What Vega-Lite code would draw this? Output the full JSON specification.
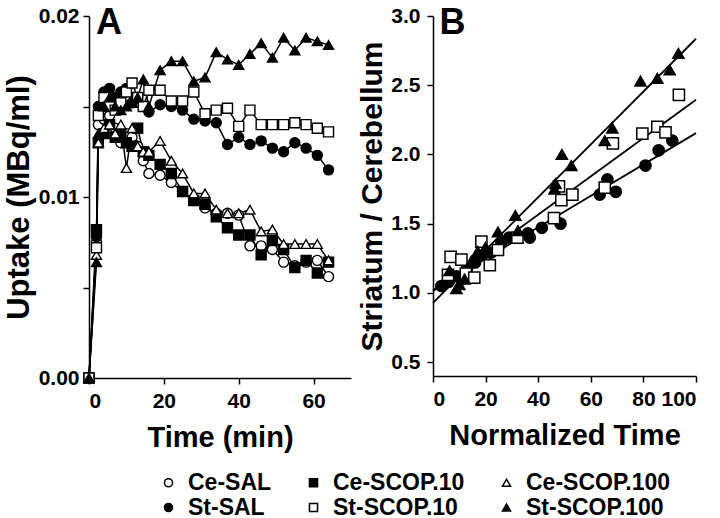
{
  "$schema": "https://vega.github.io/schema/vega-lite/v6.json",
  "background": "white",
  "padding": {"left": 3, "top": 4, "right": 5, "bottom": 5},
  "spacing": 6,
  "config": {
    "view": {"stroke": null},
    "font": "Liberation Sans",
    "axis": {
      "domainColor": "black", "domainWidth": 1.5, "tickColor": "black", "tickWidth": 1.5, "tickSize": 6,
      "labelFont": "Liberation Sans", "labelFontWeight": "bold", "labelFontSize": 21, "labelColor": "black", "labelPadding": 6,
      "titleFont": "Liberation Sans", "titleFontWeight": "bold", "titleFontSize": 29, "titleColor": "black", "titlePadding": 12,
      "grid": false
    },
    "legend": {
      "labelFont": "Liberation Sans", "labelFontWeight": "bold", "labelFontSize": 23, "labelColor": "black",
      "symbolStrokeWidth": 1.5, "symbolSize": 65, "labelOffset": 8,
      "columnPadding": 30, "rowPadding": 1
    }
  },
  "datasets": {
    "uptake": [
      {"s":"Ce-SAL","t":0,"v":0},{"s":"Ce-SAL","t":2,"v":0.0075},{"s":"Ce-SAL","t":2.5,"v":0.014},{"s":"Ce-SAL","t":4,"v":0.0143},{"s":"Ce-SAL","t":5.5,"v":0.0145},{"s":"Ce-SAL","t":7,"v":0.0138},{"s":"Ce-SAL","t":8.5,"v":0.013},{"s":"Ce-SAL","t":10,"v":0.0135},{"s":"Ce-SAL","t":11.5,"v":0.0133},{"s":"Ce-SAL","t":13,"v":0.0128},{"s":"Ce-SAL","t":14.5,"v":0.012},{"s":"Ce-SAL","t":16,"v":0.0113},{"s":"Ce-SAL","t":19,"v":0.0112},{"s":"Ce-SAL","t":22,"v":0.0108},{"s":"Ce-SAL","t":25,"v":0.0103},{"s":"Ce-SAL","t":28,"v":0.0098},{"s":"Ce-SAL","t":31,"v":0.0094},{"s":"Ce-SAL","t":34,"v":0.0091},{"s":"Ce-SAL","t":37,"v":0.0091},{"s":"Ce-SAL","t":40,"v":0.009},{"s":"Ce-SAL","t":43,"v":0.0073},{"s":"Ce-SAL","t":46,"v":0.0073},{"s":"Ce-SAL","t":49,"v":0.0071},{"s":"Ce-SAL","t":52,"v":0.0064},{"s":"Ce-SAL","t":55,"v":0.0062},{"s":"Ce-SAL","t":58,"v":0.0064},{"s":"Ce-SAL","t":61,"v":0.0065},{"s":"Ce-SAL","t":64,"v":0.0056},
      {"s":"Ce-SCOP.10","t":0,"v":0},{"s":"Ce-SCOP.10","t":2,"v":0.0082},{"s":"Ce-SCOP.10","t":2.5,"v":0.013},{"s":"Ce-SCOP.10","t":4,"v":0.0135},{"s":"Ce-SCOP.10","t":5.5,"v":0.014},{"s":"Ce-SCOP.10","t":7,"v":0.0133},{"s":"Ce-SCOP.10","t":8.5,"v":0.0135},{"s":"Ce-SCOP.10","t":10,"v":0.013},{"s":"Ce-SCOP.10","t":11.5,"v":0.0128},{"s":"Ce-SCOP.10","t":13,"v":0.0138},{"s":"Ce-SCOP.10","t":14.5,"v":0.0125},{"s":"Ce-SCOP.10","t":16,"v":0.0123},{"s":"Ce-SCOP.10","t":19,"v":0.0118},{"s":"Ce-SCOP.10","t":22,"v":0.0113},{"s":"Ce-SCOP.10","t":25,"v":0.0103},{"s":"Ce-SCOP.10","t":28,"v":0.0098},{"s":"Ce-SCOP.10","t":31,"v":0.0096},{"s":"Ce-SCOP.10","t":34,"v":0.0089},{"s":"Ce-SCOP.10","t":37,"v":0.0083},{"s":"Ce-SCOP.10","t":40,"v":0.0079},{"s":"Ce-SCOP.10","t":43,"v":0.0079},{"s":"Ce-SCOP.10","t":46,"v":0.0068},{"s":"Ce-SCOP.10","t":49,"v":0.0076},{"s":"Ce-SCOP.10","t":52,"v":0.0071},{"s":"Ce-SCOP.10","t":55,"v":0.0061},{"s":"Ce-SCOP.10","t":58,"v":0.0065},{"s":"Ce-SCOP.10","t":61,"v":0.0058},{"s":"Ce-SCOP.10","t":64,"v":0.0064},
      {"s":"Ce-SCOP.100","t":0,"v":0},{"s":"Ce-SCOP.100","t":2,"v":0.0068},{"s":"Ce-SCOP.100","t":2.5,"v":0.013},{"s":"Ce-SCOP.100","t":4,"v":0.0138},{"s":"Ce-SCOP.100","t":5.5,"v":0.014},{"s":"Ce-SCOP.100","t":7,"v":0.0135},{"s":"Ce-SCOP.100","t":8.5,"v":0.014},{"s":"Ce-SCOP.100","t":10,"v":0.0116},{"s":"Ce-SCOP.100","t":11.5,"v":0.0138},{"s":"Ce-SCOP.100","t":13,"v":0.0128},{"s":"Ce-SCOP.100","t":14.5,"v":0.0125},{"s":"Ce-SCOP.100","t":16,"v":0.0125},{"s":"Ce-SCOP.100","t":19,"v":0.0131},{"s":"Ce-SCOP.100","t":22,"v":0.012},{"s":"Ce-SCOP.100","t":25,"v":0.0113},{"s":"Ce-SCOP.100","t":28,"v":0.0102},{"s":"Ce-SCOP.100","t":31,"v":0.0102},{"s":"Ce-SCOP.100","t":34,"v":0.0093},{"s":"Ce-SCOP.100","t":37,"v":0.0091},{"s":"Ce-SCOP.100","t":40,"v":0.0091},{"s":"Ce-SCOP.100","t":43,"v":0.0093},{"s":"Ce-SCOP.100","t":46,"v":0.0081},{"s":"Ce-SCOP.100","t":49,"v":0.0082},{"s":"Ce-SCOP.100","t":52,"v":0.0074},{"s":"Ce-SCOP.100","t":55,"v":0.0074},{"s":"Ce-SCOP.100","t":58,"v":0.0074},{"s":"Ce-SCOP.100","t":61,"v":0.0074},{"s":"Ce-SCOP.100","t":64,"v":0.0065},
      {"s":"St-SAL","t":0,"v":0},{"s":"St-SAL","t":2,"v":0.0078},{"s":"St-SAL","t":2.5,"v":0.015},{"s":"St-SAL","t":4,"v":0.0158},{"s":"St-SAL","t":5.5,"v":0.016},{"s":"St-SAL","t":7,"v":0.0155},{"s":"St-SAL","t":8.5,"v":0.0158},{"s":"St-SAL","t":10,"v":0.016},{"s":"St-SAL","t":11.5,"v":0.0152},{"s":"St-SAL","t":13,"v":0.0155},{"s":"St-SAL","t":14.5,"v":0.015},{"s":"St-SAL","t":16,"v":0.0147},{"s":"St-SAL","t":19,"v":0.0151},{"s":"St-SAL","t":22,"v":0.015},{"s":"St-SAL","t":25,"v":0.0148},{"s":"St-SAL","t":28,"v":0.0143},{"s":"St-SAL","t":31,"v":0.0142},{"s":"St-SAL","t":34,"v":0.0141},{"s":"St-SAL","t":37,"v":0.0129},{"s":"St-SAL","t":40,"v":0.0133},{"s":"St-SAL","t":43,"v":0.0129},{"s":"St-SAL","t":46,"v":0.0131},{"s":"St-SAL","t":49,"v":0.0127},{"s":"St-SAL","t":52,"v":0.0125},{"s":"St-SAL","t":55,"v":0.013},{"s":"St-SAL","t":58,"v":0.0127},{"s":"St-SAL","t":61,"v":0.0123},{"s":"St-SAL","t":64,"v":0.0115},
      {"s":"St-SCOP.10","t":0,"v":0},{"s":"St-SCOP.10","t":2,"v":0.0072},{"s":"St-SCOP.10","t":2.5,"v":0.0145},{"s":"St-SCOP.10","t":4,"v":0.0155},{"s":"St-SCOP.10","t":5.5,"v":0.015},{"s":"St-SCOP.10","t":7,"v":0.0148},{"s":"St-SCOP.10","t":8.5,"v":0.0152},{"s":"St-SCOP.10","t":10,"v":0.0158},{"s":"St-SCOP.10","t":11.5,"v":0.0163},{"s":"St-SCOP.10","t":13,"v":0.0155},{"s":"St-SCOP.10","t":14.5,"v":0.015},{"s":"St-SCOP.10","t":16,"v":0.0159},{"s":"St-SCOP.10","t":19,"v":0.0159},{"s":"St-SCOP.10","t":22,"v":0.0153},{"s":"St-SCOP.10","t":25,"v":0.0153},{"s":"St-SCOP.10","t":28,"v":0.0158},{"s":"St-SCOP.10","t":31,"v":0.0146},{"s":"St-SCOP.10","t":34,"v":0.0148},{"s":"St-SCOP.10","t":37,"v":0.0149},{"s":"St-SCOP.10","t":40,"v":0.0139},{"s":"St-SCOP.10","t":43,"v":0.0148},{"s":"St-SCOP.10","t":46,"v":0.014},{"s":"St-SCOP.10","t":49,"v":0.014},{"s":"St-SCOP.10","t":52,"v":0.014},{"s":"St-SCOP.10","t":55,"v":0.0141},{"s":"St-SCOP.10","t":58,"v":0.014},{"s":"St-SCOP.10","t":61,"v":0.0138},{"s":"St-SCOP.10","t":64,"v":0.0136},
      {"s":"St-SCOP.100","t":0,"v":0},{"s":"St-SCOP.100","t":2,"v":0.0064},{"s":"St-SCOP.100","t":2.5,"v":0.0135},{"s":"St-SCOP.100","t":4,"v":0.015},{"s":"St-SCOP.100","t":5.5,"v":0.0155},{"s":"St-SCOP.100","t":7,"v":0.015},{"s":"St-SCOP.100","t":8.5,"v":0.0148},{"s":"St-SCOP.100","t":10,"v":0.015},{"s":"St-SCOP.100","t":11.5,"v":0.0152},{"s":"St-SCOP.100","t":13,"v":0.0155},{"s":"St-SCOP.100","t":14.5,"v":0.0165},{"s":"St-SCOP.100","t":16,"v":0.015},{"s":"St-SCOP.100","t":19,"v":0.017},{"s":"St-SCOP.100","t":22,"v":0.0175},{"s":"St-SCOP.100","t":25,"v":0.0175},{"s":"St-SCOP.100","t":28,"v":0.0164},{"s":"St-SCOP.100","t":31,"v":0.0166},{"s":"St-SCOP.100","t":34,"v":0.018},{"s":"St-SCOP.100","t":37,"v":0.0176},{"s":"St-SCOP.100","t":40,"v":0.0173},{"s":"St-SCOP.100","t":43,"v":0.0179},{"s":"St-SCOP.100","t":46,"v":0.0185},{"s":"St-SCOP.100","t":49,"v":0.0177},{"s":"St-SCOP.100","t":52,"v":0.0188},{"s":"St-SCOP.100","t":55,"v":0.0181},{"s":"St-SCOP.100","t":58,"v":0.0188},{"s":"St-SCOP.100","t":61,"v":0.0186},{"s":"St-SCOP.100","t":64,"v":0.0184}
    ],
    "ratio": [
      {"s":"St-SAL","nt":3.2,"r":1.05},{"s":"St-SAL","nt":6,"r":1.08},{"s":"St-SAL","nt":9,"r":1.12},{"s":"St-SAL","nt":11,"r":1.1},{"s":"St-SAL","nt":13,"r":1.18},{"s":"St-SAL","nt":16,"r":1.22},{"s":"St-SAL","nt":18,"r":1.27},{"s":"St-SAL","nt":22,"r":1.29},{"s":"St-SAL","nt":26,"r":1.36},{"s":"St-SAL","nt":29,"r":1.4},{"s":"St-SAL","nt":36.1,"r":1.43},{"s":"St-SAL","nt":36.8,"r":1.4},{"s":"St-SAL","nt":41.4,"r":1.47},{"s":"St-SAL","nt":48.5,"r":1.5},{"s":"St-SAL","nt":63.4,"r":1.71},{"s":"St-SAL","nt":66.3,"r":1.82},{"s":"St-SAL","nt":69.5,"r":1.73},{"s":"St-SAL","nt":80.8,"r":1.92},{"s":"St-SAL","nt":85.8,"r":2.03},{"s":"St-SAL","nt":91,"r":2.1},
      {"s":"St-SCOP.10","nt":5.7,"r":1.13},{"s":"St-SCOP.10","nt":6.7,"r":1.26},{"s":"St-SCOP.10","nt":10.8,"r":1.24},{"s":"St-SCOP.10","nt":12.5,"r":1.14},{"s":"St-SCOP.10","nt":15.7,"r":1.11},{"s":"St-SCOP.10","nt":18.4,"r":1.37},{"s":"St-SCOP.10","nt":21.6,"r":1.2},{"s":"St-SCOP.10","nt":24.7,"r":1.31},{"s":"St-SCOP.10","nt":32.1,"r":1.4},{"s":"St-SCOP.10","nt":46,"r":1.54},{"s":"St-SCOP.10","nt":47.9,"r":1.77},{"s":"St-SCOP.10","nt":48.8,"r":1.67},{"s":"St-SCOP.10","nt":53,"r":1.71},{"s":"St-SCOP.10","nt":65.3,"r":1.76},{"s":"St-SCOP.10","nt":68.4,"r":2.08},{"s":"St-SCOP.10","nt":79.6,"r":2.15},{"s":"St-SCOP.10","nt":85.3,"r":2.2},{"s":"St-SCOP.10","nt":88.4,"r":2.16},{"s":"St-SCOP.10","nt":93.5,"r":2.43},
      {"s":"St-SCOP.100","nt":6.3,"r":1.16},{"s":"St-SCOP.100","nt":8.9,"r":1.03},{"s":"St-SCOP.100","nt":10,"r":1.06},{"s":"St-SCOP.100","nt":12,"r":1.1},{"s":"St-SCOP.100","nt":14.6,"r":1.23},{"s":"St-SCOP.100","nt":17,"r":1.3},{"s":"St-SCOP.100","nt":20,"r":1.33},{"s":"St-SCOP.100","nt":24.7,"r":1.44},{"s":"St-SCOP.100","nt":31.3,"r":1.56},{"s":"St-SCOP.100","nt":32.3,"r":1.45},{"s":"St-SCOP.100","nt":46.2,"r":1.75},{"s":"St-SCOP.100","nt":46.6,"r":1.79},{"s":"St-SCOP.100","nt":49,"r":2.0},{"s":"St-SCOP.100","nt":52.6,"r":1.92},{"s":"St-SCOP.100","nt":65.3,"r":2.1},{"s":"St-SCOP.100","nt":68.2,"r":2.19},{"s":"St-SCOP.100","nt":78.9,"r":2.53},{"s":"St-SCOP.100","nt":85.3,"r":2.55},{"s":"St-SCOP.100","nt":90,"r":2.61},{"s":"St-SCOP.100","nt":93.3,"r":2.73}
    ]
  },
  "resolve": {"scale": {"shape": "shared", "fill": "shared", "stroke": "shared"}},
  "hconcat": [
    {
      "width": 262,
      "height": 362,
      "layer": [
        {
          "data": {"name": "uptake"},
          "mark": {"type": "line", "color": "black", "strokeWidth": 1.5},
          "encoding": {
            "x": {"field": "t", "type": "quantitative", "scale": {"domain": [0, 70]},
                  "axis": {"title": "Time (min)", "values": [0,10,20,30,40,50,60,70], "labelExpr": "datum.value % 20 == 0 ? datum.label : ''"}},
            "y": {"field": "v", "type": "quantitative", "scale": {"domain": [0, 0.02]},
                  "axis": {"title": "Uptake (MBq/ml)", "titleFontSize": 31, "titlePadding": 3, "labelPadding": 4, "values": [0,0.005,0.01,0.015,0.02], "format": ".2f", "labelExpr": "(datum.value == 0.005 || datum.value == 0.015) ? '' : datum.label"}},
            "detail": {"field": "s"}
          }
        },
        {
          "data": {"name": "uptake"},
          "mark": {"type": "point", "filled": false, "strokeWidth": 1.4, "size": 100, "opacity": 1, "fillOpacity": 1, "strokeOpacity": 1},
          "encoding": {
            "x": {"field": "t", "type": "quantitative"},
            "y": {"field": "v", "type": "quantitative"},
            "shape": {"field": "s", "type": "nominal",
                      "scale": {"domain": ["Ce-SAL","Ce-SCOP.10","Ce-SCOP.100","St-SAL","St-SCOP.10","St-SCOP.100"], "range": ["circle","square","triangle-up","circle","square","triangle-up"]},
                      "legend": {"title": null, "orient": "none", "legendX": 68, "legendY": 455, "columns": 3, "direction": "horizontal"}},
            "fill": {"field": "s", "type": "nominal",
                     "scale": {"domain": ["Ce-SAL","Ce-SCOP.10","Ce-SCOP.100","St-SAL","St-SCOP.10","St-SCOP.100"], "range": ["white","black","white","black","white","black"]},
                     "legend": {"title": null, "orient": "none", "legendX": 68, "legendY": 455, "columns": 3, "direction": "horizontal"}},
            "stroke": {"field": "s", "type": "nominal",
                       "scale": {"domain": ["Ce-SAL","Ce-SCOP.10","Ce-SCOP.100","St-SAL","St-SCOP.10","St-SCOP.100"], "range": ["black","black","black","black","black","black"]},
                       "legend": {"title": null, "orient": "none", "legendX": 68, "legendY": 455, "columns": 3, "direction": "horizontal"}}
          }
        },
        {
          "data": {"values": [{"label": "A"}]},
          "mark": {"type": "text", "fontSize": 36, "fontWeight": "bold", "font": "Liberation Sans", "align": "left", "baseline": "alphabetic", "color": "black"},
          "encoding": {
            "x": {"datum": 1.9, "type": "quantitative"},
            "y": {"datum": 0.019, "type": "quantitative"},
            "text": {"field": "label"}
          }
        }
      ]
    },
    {
      "width": 263,
      "height": 360,
      "layer": [
        {
          "data": {"name": "ratio"},
          "transform": [{"regression": "r", "on": "nt", "groupby": ["s"], "extent": [0, 100]}],
          "mark": {"type": "line", "color": "black", "strokeWidth": 1.8},
          "encoding": {
            "x": {"field": "nt", "type": "quantitative", "scale": {"domain": [0, 100]},
                  "axis": {"title": "Normalized Time", "values": [0,10,20,30,40,50,60,70,80,90,100], "labelExpr": "datum.value % 20 == 0 ? datum.label : ''"}},
            "y": {"field": "r", "type": "quantitative", "scale": {"domain": [0.5, 3.0]},
                  "axis": {"title": "Striatum / Cerebellum", "titleFontSize": 30, "titlePadding": 3, "labelPadding": 7, "values": [0.5,0.75,1,1.25,1.5,1.75,2,2.25,2.5,2.75,3], "format": ".1f", "labelExpr": "(datum.value * 2) % 1 == 0 ? datum.label : ''"}},
            "detail": {"field": "s"}
          }
        },
        {
          "data": {"name": "ratio"},
          "mark": {"type": "point", "filled": false, "strokeWidth": 1.5, "size": 125, "opacity": 1, "fillOpacity": 1, "strokeOpacity": 1},
          "encoding": {
            "x": {"field": "nt", "type": "quantitative"},
            "y": {"field": "r", "type": "quantitative"},
            "shape": {"field": "s", "type": "nominal"},
            "fill": {"field": "s", "type": "nominal"},
            "stroke": {"field": "s", "type": "nominal"}
          }
        },
        {
          "data": {"values": [{"label": "B"}]},
          "mark": {"type": "text", "fontSize": 36, "fontWeight": "bold", "font": "Liberation Sans", "align": "left", "baseline": "alphabetic", "color": "black"},
          "encoding": {
            "x": {"datum": 2.5, "type": "quantitative"},
            "y": {"datum": 2.87, "type": "quantitative"},
            "text": {"field": "label"}
          }
        }
      ]
    }
  ]
}
